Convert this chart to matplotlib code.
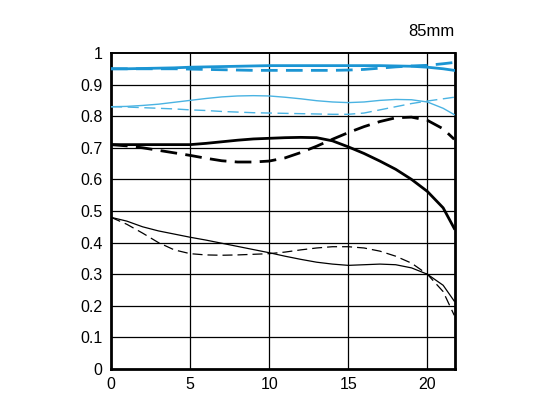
import matplotlib.pyplot as plt
import numpy as np

plt.rcParams['font.family'] = ['Liberation Sans', 'DejaVu Sans']

# image height (mm from centre)
x_pts = [0, 1, 2, 3, 4, 5, 6, 7, 8, 9, 10, 11, 12, 13, 14, 15, 16, 17, 18, 19, 20, 21, 21.7]

# 10 lines/mm (blue, thick)
blue_thick_s = [0.95, 0.95, 0.951, 0.952, 0.953, 0.955, 0.956, 0.957, 0.958, 0.959, 0.96, 0.96, 0.96, 0.96, 0.96, 0.96, 0.96, 0.96, 0.959, 0.958, 0.955, 0.95, 0.945]
blue_thick_m = [0.95, 0.95, 0.95, 0.95, 0.95, 0.949, 0.948, 0.947, 0.946, 0.945, 0.945, 0.945, 0.945, 0.945, 0.945, 0.946, 0.948, 0.952, 0.956, 0.959, 0.961, 0.966, 0.97]
# 30 lines/mm (blue, thin)
blue_thin_s = [0.83, 0.831, 0.834, 0.838, 0.844, 0.85, 0.856, 0.861, 0.864, 0.865, 0.864, 0.86, 0.855, 0.849, 0.845, 0.843, 0.845, 0.85, 0.853, 0.852, 0.845, 0.825, 0.805]
blue_thin_m = [0.83, 0.829, 0.827, 0.825, 0.823, 0.82, 0.818, 0.815, 0.813, 0.811, 0.81, 0.809, 0.808, 0.807, 0.806, 0.806, 0.81, 0.82, 0.83, 0.84, 0.848, 0.855, 0.86]
# 10 lines/mm (black, thick)
black_thick_s = [0.71, 0.71, 0.71, 0.71, 0.71, 0.71, 0.714, 0.719, 0.724, 0.728, 0.73, 0.732, 0.733, 0.732, 0.722, 0.703, 0.682, 0.658, 0.632, 0.6, 0.562, 0.51, 0.445]
black_thick_m = [0.71, 0.706, 0.7, 0.692, 0.684, 0.676, 0.667, 0.659, 0.655, 0.655, 0.658, 0.668, 0.685, 0.705, 0.727, 0.748, 0.767, 0.783, 0.795, 0.797, 0.787, 0.76, 0.727]
# 30 lines/mm (black, thin)
black_thin_s = [0.48, 0.468, 0.45, 0.437, 0.427, 0.417, 0.408, 0.398, 0.388, 0.378, 0.368, 0.357, 0.347, 0.338, 0.332, 0.328, 0.33, 0.332, 0.33, 0.32, 0.3, 0.265, 0.215]
black_thin_m = [0.48, 0.458, 0.43, 0.4, 0.377, 0.365, 0.361, 0.36, 0.361, 0.363, 0.365, 0.37, 0.377, 0.383, 0.387, 0.387, 0.383, 0.373, 0.357, 0.335, 0.3, 0.245, 0.17]

x_ticks = [0, 5, 10, 15, 20]
y_ticks = [0, 0.1, 0.2, 0.3, 0.4, 0.5, 0.6, 0.7, 0.8, 0.9, 1]
y_labels = ['0', '0.1', '0.2', '0.3', '0.4', '0.5', '0.6', '0.7', '0.8', '0.9', '1']

blue = '#1b95d3'
blue_light = '#4ab3e2'

fig = plt.figure(figsize=(5.5, 4.13), dpi=100)
ax = fig.add_axes([0.2018, 0.1065, 0.6255, 0.7652])

for y in y_ticks[1:-1]:
    ax.axhline(y, color='black', lw=0.9, zorder=1)
for x in x_ticks[1:]:
    ax.axvline(x, color='black', lw=0.9, zorder=1)

ax.plot(x_pts, blue_thick_s, color=blue, lw=2.0, zorder=3)
ax.plot(x_pts, blue_thick_m, color=blue, lw=2.0, dashes=(6, 3), zorder=3)
ax.plot(x_pts, blue_thin_s, color=blue_light, lw=1.0, zorder=3)
ax.plot(x_pts, blue_thin_m, color=blue_light, lw=1.0, dashes=(8, 4), zorder=3)
ax.plot(x_pts, black_thick_s, color='black', lw=2.0, zorder=3)
ax.plot(x_pts, black_thick_m, color='black', lw=2.0, dashes=(6, 3), zorder=3)
ax.plot(x_pts, black_thin_s, color='black', lw=0.9, zorder=3)
ax.plot(x_pts, black_thin_m, color='black', lw=0.9, dashes=(8, 4), zorder=3)

ax.set_xlim(0, 21.75)
ax.set_ylim(0, 1)
ax.set_xticks(x_ticks)
ax.set_yticks(y_ticks)
ax.set_yticklabels(y_labels)
ax.tick_params(length=0, labelsize=11.5, pad=6)
for side in ['left', 'bottom', 'right']:
    ax.spines[side].set_linewidth(2.0)
ax.spines['top'].set_linewidth(1.4)

fig.text(0.826, 0.913, '85mm', ha='right', va='baseline', fontsize=12)

fig.savefig('out.png', dpi=100)
